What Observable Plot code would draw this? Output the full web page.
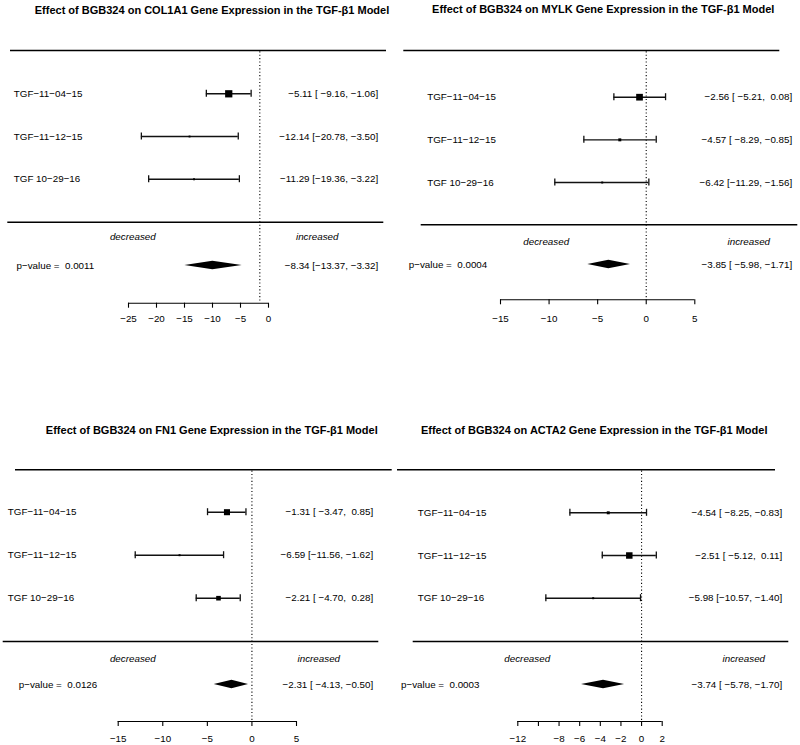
<!DOCTYPE html>
<html><head><meta charset="utf-8">
<script src="https://cdn.jsdelivr.net/npm/d3@7"></script>
<script src="https://cdn.jsdelivr.net/npm/@observablehq/plot@0.6"></script>
<style>
html,body{margin:0;padding:0;background:#fff;overflow:hidden}
#fig{position:relative;width:800px;height:745px;background:#fff}
.panel{position:absolute}
</style></head><body><div id="fig"></div>
<script>
// ---------------- data ----------------
const studies = ["TGF\u221211\u221204\u221215", "TGF\u221211\u221212\u221215", "TGF 10\u221229\u221216"];
const genes = ["COL1A1", "MYLK", "FN1", "ACTA2"];

// positions as drawn: lower CI, estimate, upper CI
const col1a1Lo = [-11.1, -22.7, -21.4], col1a1Est = [-7.1, -14.1, -13.3], col1a1Hi = [-3.1, -5.4, -5.2];
const mylkLo = [-3.33, -6.42, -9.41], mylkEst = [-0.69, -2.72, -4.53], mylkHi = [1.99, 1.03, 0.27];
const fn1Lo = [-4.98, -13.09, -6.25], fn1Est = [-2.80, -8.12, -3.75], fn1Hi = [-0.67, -3.18, -1.31];
const acta2Lo = [-6.95, -3.81, -9.28], acta2Est = [-3.23, -1.19, -4.69], acta2Hi = [0.48, 1.43, -0.10];

// summary diamonds as drawn: [lower, estimate, upper]
const col1a1SumPlot = [-14.94, -9.94, -4.70];
const mylkSumPlot = [-6.01, -3.85, -1.62];
const fn1SumPlot = [-4.23, -2.24, -0.38];
const acta2SumPlot = [-5.82, -3.69, -1.65];

// reference (dotted) line as drawn
const refLines = [-1.55, 0, 0, 0];

// study weights (relative square size)
const col1a1W = [66, 17, 17], mylkW = [61, 27, 18], fn1W = [55, 18, 42], acta2W = [27, 59, 18];

// printed annotations
const col1a1LabEst = [-5.11, -12.14, -11.29], col1a1LabLo = [-9.16, -20.78, -19.36], col1a1LabHi = [-1.06, -3.50, -3.22];
const mylkLabEst = [-2.56, -4.57, -6.42], mylkLabLo = [-5.21, -8.29, -11.29], mylkLabHi = [0.08, -0.85, -1.56];
const fn1LabEst = [-1.31, -6.59, -2.21], fn1LabLo = [-3.47, -11.56, -4.70], fn1LabHi = [0.85, -1.62, 0.28];
const acta2LabEst = [-4.54, -2.51, -5.98], acta2LabLo = [-8.25, -5.12, -10.57], acta2LabHi = [-0.83, 0.11, -1.40];
const col1a1SumLab = [-8.34, -13.37, -3.32], mylkSumLab = [-3.85, -5.98, -1.71];
const fn1SumLab = [-2.31, -4.13, -0.50], acta2SumLab = [-3.74, -5.78, -1.70];
const pValues = [0.0011, 0.0004, 0.0126, 0.0003];

// axes
const col1a1Ticks = [-25, -20, -15, -10, -5, 0], col1a1TickLabels = [-25, -20, -15, -10, -5, 0];
const mylkTicks = [-15, -10, -5, 0, 5], mylkTickLabels = [-15, -10, -5, 0, 5];
const fn1Ticks = [-15, -10, -5, 0, 5], fn1TickLabels = [-15, -10, -5, 0, 5];
const acta2Ticks = [-12, -10, -8, -6, -4, -2, 0, 2], acta2TickLabels = [-12, -8, -6, -4, -2, 0, 2];

// ---------------- layout (pixels within each panel) ----------------
const layouts = [
  {left: 0, top: 0, height: 419, xDomain: [-25, 0], xRange: [128, 268], rowTop: 93.3, pitch: 42.7,
   titleX: 211.5, titleY: 9.5, topLine: [10, 386, 50], botLine: [7.3, 383.3, 221.7], labelX: 13.3, pX: 16, rightX: 377.7,
   decX: 132.3, incX: 316.7, dirY: 236.7, summaryY: 265, axisY: 302.7, tickDy: 15.6},
  {left: 400, top: 0, height: 419, xDomain: [-15, 5], xRange: [100, 294.3], rowTop: 96.7, pitch: 42.65,
   titleX: 202.7, titleY: 9.3, topLine: [3.3, 379.3, 50], botLine: [20.7, 397.3, 224.3], labelX: 26.7, pX: 8.3, rightX: 391.7,
   decX: 145.7, incX: 348.3, dirY: 241.7, summaryY: 264, axisY: 299.3, tickDy: 19.5},
  {left: 0, top: 419, height: 326, xDomain: [-15, 5], xRange: [117.7, 296], rowTop: 92.7, pitch: 43,
   titleX: 211.3, titleY: 11, topLine: [15, 391.7, 50.3], botLine: [2.7, 378.3, 222], labelX: 7.3, pX: 18.3, rightX: 372.7,
   decX: 132.3, incX: 318.3, dirY: 239.3, summaryY: 265, axisY: 302, tickDy: 17.5},
  {left: 400, top: 419, height: 326, xDomain: [-12, 2], xRange: [117.3, 261.7], rowTop: 93.3, pitch: 42.7,
   titleX: 193.7, titleY: 11, topLine: [-3, 375, 50.3], botLine: [12.7, 388.3, 222], labelX: 17.3, pX: 0.5, rightX: 381.7,
   decX: 126.7, incX: 343.3, dirY: 239.3, summaryY: 265, axisY: 302, tickDy: 17.3}
];

const panels = [
  {gene: genes[0], lo: col1a1Lo, est: col1a1Est, hi: col1a1Hi, w: col1a1W, sumPlot: col1a1SumPlot,
   labEst: col1a1LabEst, labLo: col1a1LabLo, labHi: col1a1LabHi, sumLab: col1a1SumLab, ticks: col1a1Ticks, tickLabels: col1a1TickLabels},
  {gene: genes[1], lo: mylkLo, est: mylkEst, hi: mylkHi, w: mylkW, sumPlot: mylkSumPlot,
   labEst: mylkLabEst, labLo: mylkLabLo, labHi: mylkLabHi, sumLab: mylkSumLab, ticks: mylkTicks, tickLabels: mylkTickLabels},
  {gene: genes[2], lo: fn1Lo, est: fn1Est, hi: fn1Hi, w: fn1W, sumPlot: fn1SumPlot,
   labEst: fn1LabEst, labLo: fn1LabLo, labHi: fn1LabHi, sumLab: fn1SumLab, ticks: fn1Ticks, tickLabels: fn1TickLabels},
  {gene: genes[3], lo: acta2Lo, est: acta2Est, hi: acta2Hi, w: acta2W, sumPlot: acta2SumPlot,
   labEst: acta2LabEst, labLo: acta2LabLo, labHi: acta2LabHi, sumLab: acta2SumLab, ticks: acta2Ticks, tickLabels: acta2TickLabels}
];

// ---------------- helpers ----------------
const NB = "\u00A0";
const minus = s => String(s).replace(/-/g, "\u2212");
const f2 = v => minus(v.toFixed(2));
const padL = (s, w) => NB.repeat(Math.max(0, w - s.length)) + s;
function fmtCols(est, lo, hi) {
  const wl = d3.max(lo, v => f2(v).length), wh = d3.max(hi, v => f2(v).length);
  return est.map((e, i) => `${f2(e)}${NB}[${padL(f2(lo[i]), wl)},${NB}${padL(f2(hi[i]), wh)}]`);
}
const FONT = "'Liberation Sans', Arial, Helvetica, sans-serif";
const FS = 9.8;
const INK = "#000";

function forest(P, L, ref, pval) {
  const [d0, d1] = L.xDomain, [r0, r1] = L.xRange;
  const X = px => d0 + (px - r0) * (d1 - d0) / (r1 - r0);
  const Y = py => 3 - (py - L.rowTop) / L.pitch;
  const rows = studies.map((s, i) => ({study: s, row: 3 - i, lo: P.lo[i], est: P.est[i], hi: P.hi[i], w: P.w[i]}));
  const ann = fmtCols([...P.labEst, P.sumLab[0]], [...P.labLo, P.sumLab[1]], [...P.labHi, P.sumLab[2]]);
  rows.forEach((r, i) => r.ann = ann[i]);
  const sRow = Y(L.summaryY);
  const dh = 4.2 / L.pitch, cap = 3.5 / L.pitch, tick = 5 / L.pitch;
  const diamond = [
    {x: P.sumPlot[0], y1: sRow, y2: sRow},
    {x: P.sumPlot[1], y1: sRow - dh, y2: sRow + dh},
    {x: P.sumPlot[2], y1: sRow, y2: sRow}
  ];
  const topRow = Y(L.topLine[2]), botRow = Y(L.botLine[2]), axisRow = Y(L.axisY), dirRow = Y(L.dirY);
  const title = `Effect of BGB324 on ${P.gene} Gene Expression in the TGF-\u03B21 Model`;
  return Plot.plot({
    width: 400, height: L.height, margin: 0,
    style: {fontFamily: FONT, fontSize: FS + "px", color: "black", background: "white", overflow: "visible"},
    x: {axis: null, domain: L.xDomain, range: L.xRange},
    y: {axis: null, domain: [3, 1], range: [L.rowTop, L.rowTop + 2 * L.pitch]},
    r: {type: "linear", domain: [0, 100], range: [0, 6.2]},
    marks: [
      Plot.text([title], {x: X(L.titleX), y: Y(L.titleY), text: d => d, fontWeight: "bold", fontSize: 11, fill: INK}),
      Plot.ruleY([topRow], {x1: X(L.topLine[0]), x2: X(L.topLine[1]), stroke: INK, strokeWidth: 1.5}),
      Plot.ruleY([botRow], {x1: X(L.botLine[0]), x2: X(L.botLine[1]), stroke: INK, strokeWidth: 1.5}),
      Plot.ruleX([ref], {y1: topRow - 0.03, y2: axisRow, stroke: INK, strokeWidth: 1.1, strokeDasharray: "1.1,2.3"}),
      // study rows
      Plot.ruleY(rows, {y: "row", x1: "lo", x2: "hi", stroke: "#111", strokeWidth: 1.4}),
      Plot.ruleX(rows, {x: "lo", y1: d => d.row - cap, y2: d => d.row + cap, stroke: "#111", strokeWidth: 1.3}),
      Plot.ruleX(rows, {x: "hi", y1: d => d.row - cap, y2: d => d.row + cap, stroke: "#111", strokeWidth: 1.3}),
      Plot.dot(rows, {x: "est", y: "row", r: "w", symbol: "square", fill: INK, stroke: "none"}),
      Plot.text(rows, {x: X(L.labelX), y: "row", text: "study", textAnchor: "start", fontSize: FS, fill: INK}),
      Plot.text(rows, {x: X(L.rightX), y: "row", text: "ann", textAnchor: "end", fontSize: FS, fill: INK}),
      // direction labels
      Plot.text(["decreased"], {x: X(L.decX), y: dirRow, text: d => d, fontStyle: "italic", fontSize: FS, fill: INK}),
      Plot.text(["increased"], {x: X(L.incX), y: dirRow, text: d => d, fontStyle: "italic", fontSize: FS, fill: INK}),
      // summary
      Plot.area(diamond, {x1: "x", y1: "y1", y2: "y2", fill: INK}),
      Plot.text([`p\u2212value =${NB}${NB}${pval.toFixed(4)}`], {x: X(L.pX), y: sRow, text: d => d, textAnchor: "start", fontSize: FS, fill: INK}),
      Plot.text([ann[3]], {x: X(L.rightX), y: sRow, text: d => d, textAnchor: "end", fontSize: FS, fill: INK}),
      // axis
      Plot.ruleY([axisRow], {x1: P.ticks[0], x2: P.ticks[P.ticks.length - 1], stroke: INK, strokeWidth: 1.1}),
      Plot.ruleX(P.ticks, {x: d => d, y1: axisRow, y2: axisRow - tick, stroke: INK, strokeWidth: 1.1}),
      Plot.text(P.tickLabels, {x: d => d, y: axisRow, dy: L.tickDy, text: d => minus(d), fontSize: FS, fill: INK})
    ]
  });
}

const fig = document.getElementById("fig");
panels.forEach((P, i) => {
  const L = layouts[i];
  const div = document.createElement("div");
  div.className = "panel";
  div.style.left = L.left + "px";
  div.style.top = L.top + "px";
  div.appendChild(forest(P, L, refLines[i], pValues[i]));
  fig.appendChild(div);
});
</script>
</body></html>
